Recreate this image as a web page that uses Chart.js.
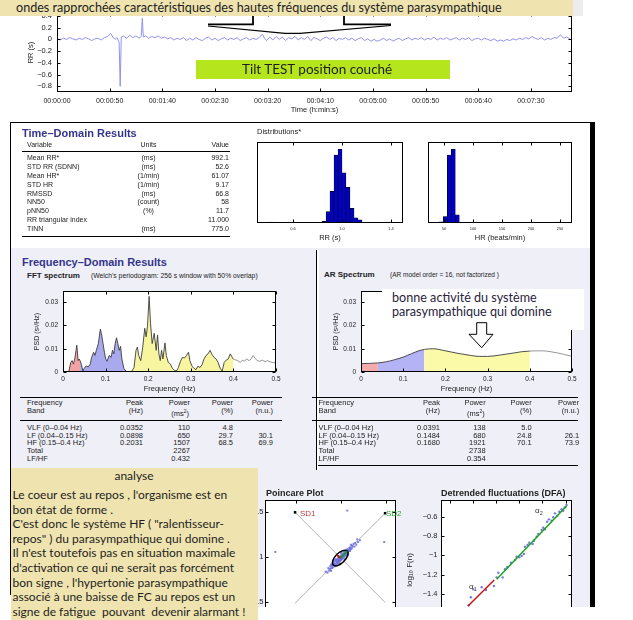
<!DOCTYPE html>
<html lang="fr">
<head>
<meta charset="utf-8">
<title>HRV</title>
<script src="https://cdn.jsdelivr.net/npm/chart.js@4.4.1/dist/chart.umd.min.js"></script>
<style>
html, body { margin:0; padding:0; width:633px; height:620px; overflow:hidden; background:#fff; }
#page { position:relative; width:633px; height:620px; font-family:'Liberation Sans', Arial, sans-serif; color:#222; }
#report { position:absolute; left:0; top:0; width:633px; height:607px; overflow:hidden; }
.abs { position:absolute; }
canvas { position:absolute; display:block; }
.t { position:absolute; white-space:nowrap; line-height:1; }
.note { font-family:Lato, 'Open Sans', sans-serif; color:#1e1e1e; }
</style>
</head>
<body>
<div id="page">
  <div id="report">
    <div class="abs" style="left:11px;top:248px;width:579px;height:359px;background:#efeff8"></div>
    <canvas id="cRR" width="600" height="126" style="left:0;top:0"></canvas>
    <canvas id="cHistRR" width="175" height="115" style="left:240px;top:130px"></canvas>
    <canvas id="cHistHR" width="169" height="115" style="left:415px;top:130px"></canvas>
    <canvas id="cFFT" width="276" height="116" style="left:10px;top:280px"></canvas>
    <canvas id="cAR" width="276" height="116" style="left:308px;top:280px"></canvas>
    <canvas id="cPoin" width="185" height="180" style="left:225px;top:490px"></canvas>
    <canvas id="cDFA" width="189" height="170" style="left:395px;top:490px"></canvas>
    <div class="abs" style="left:10px;top:122px;width:580px;height:1px;background:#000"></div>
    <div class="abs" style="left:590px;top:122px;width:5px;height:485px;background:#000"></div>
    <div class="abs" style="left:316px;top:250px;width:1px;height:220px;background:#000"></div>
    <div class="abs" style="left:317px;top:250px;width:2px;height:220px;background:#fff"></div>
  </div>

  <!-- annotations -->
  <div class="abs" style="left:0;top:0;width:573px;height:16px;background:#efe4b0"></div>
  <div class="t note" style="left:16px;top:8px;transform:translateY(-50%);font-size:12.6px">ondes rapprochées caractéristiques des hautes fréquences du système parasympathique</div>
  <div class="abs" style="left:573px;top:0;width:10px;height:16px;background:#ececec"></div>
  <svg class="abs" style="left:0;top:0" width="633" height="60">
    <polyline points="208,24.3 253,24.3 253,16" fill="none" stroke="#000" stroke-width="1.8"/>
    <polyline points="344,16 344,24.3 391,24.3" fill="none" stroke="#000" stroke-width="1.8"/>
    <polyline points="208,26 285,33.3 300,33.3 391,25.5" fill="none" stroke="#000" stroke-width="1.2"/>
  </svg>
  <div class="abs" style="left:196px;top:60px;width:254px;height:19px;background:#b5e61d"></div>
  <div class="t note" style="left:242px;top:69.5px;transform:translateY(-50%);font-size:13.5px">Tilt TEST position couché</div>

  <div class="abs" style="left:382px;top:289px;width:202px;height:41px;background:#fff"></div>
  <div class="t note" style="left:392px;top:298px;transform:translateY(-50%);font-size:12.6px;color:#2a2440">bonne activité du système</div>
  <div class="t note" style="left:392px;top:312px;transform:translateY(-50%);font-size:12.6px;color:#2a2440">parasympathique qui domine</div>
  <svg class="abs" style="left:0;top:0" width="633" height="360">
    <polygon points="476.7,322.7 486.7,322.7 486.7,334.3 493,334.3 481.7,347.7 469,334.3 476.7,334.3" fill="#fff" stroke="#000" stroke-width="1"/>
  </svg>

  <div id="analyse" class="abs note" style="left:11px;top:468px;width:247px;height:152px;background:#efe4b0"></div>
  <div class="abs" style="left:10px;top:122px;width:1px;height:473px;background:#000"></div>
</div>

<script>
// RR tachogram (detrended), [time s, RR s]
const rrSeries = [[0,0.01],[3,-0.01],[6,0.02],[9,0.0],[12,0.03],[15,0.01],[18,-0.01],[21,0.02],[24,0.0],[27,0.03],[30,0.01],[33,-0.02],[36,0.01],[39,0.02],[42,-0.01],[45,0.03],[48,0.05],[51,0.1],[53,0.04],[55,0.0],[57,0.03],[59,-0.05],[60,-0.8],[61,0.04],[63,0.06],[66,0.02],[69,0.07],[72,0.03],[75,0.06],[78,0.02],[80,0.05],[81,0.36],[82,0.04],[84,0.06],[87,0.02],[90,0.05],[93,0.03],[96,0.06],[99,0.02],[102,0.04],[105,0.01],[108,0.03],[111,-0.01],[114,0.02],[117,0.0],[120,0.03],[123,-0.02],[126,0.02],[129,-0.01],[132,0.03],[135,0.0],[138,-0.02],[141,0.02],[144,0.04],[147,-0.01],[150,0.02],[153,-0.02],[156,0.01],[159,0.03],[162,-0.01],[165,0.02],[168,0.0],[171,0.03],[174,-0.02],[177,0.01],[180,0.03],[183,-0.01],[186,0.02],[189,0.0],[192,0.03],[195,0.09],[197,0.02],[199,-0.02],[202,0.04],[205,-0.01],[208,0.05],[211,0.0],[214,0.04],[217,-0.02],[220,0.03],[223,0.01],[226,0.05],[229,-0.01],[232,0.03],[235,0.0],[238,0.05],[241,-0.02],[244,0.03],[247,0.01],[250,-0.02],[253,0.02],[256,0.04],[259,0.0],[262,0.03],[265,-0.02],[268,0.02],[271,0.0],[274,0.03],[277,-0.01],[280,0.02],[283,-0.02],[286,0.01],[289,0.03],[292,-0.02],[295,0.01],[298,-0.03],[301,0.0],[304,-0.03],[307,-0.01],[310,0.02],[313,-0.02],[316,0.01],[319,-0.03],[322,0.0],[325,0.02],[328,-0.02],[331,0.01],[334,0.03],[337,-0.01],[340,0.02],[343,0.0],[346,0.03],[349,-0.01],[352,0.02],[355,0.0],[358,0.04],[361,-0.01],[364,0.02],[367,0.0],[370,0.03],[373,-0.01],[376,0.01],[379,0.03],[382,-0.01],[385,0.02],[388,0.0],[391,0.03],[394,-0.02],[397,0.01],[400,0.02],[403,-0.01],[406,0.02],[409,0.0],[412,-0.02],[415,0.01],[418,-0.03],[421,-0.01],[424,-0.03],[427,0.0],[430,-0.02],[433,0.01],[436,-0.01],[439,0.02],[442,0.0],[445,0.03],[448,0.01],[451,0.05],[454,0.02],[457,0.0],[460,0.03],[463,-0.01],[466,0.02],[469,0.0],[472,0.03],[475,0.02],[478,0.08],[481,0.02],[484,0.04],[487,0.01]];

// distributions
const rrHistBins = [0.418, 0.853, 0.886, 0.918, 0.951, 0.984, 1.016, 1.049, 1.082, 1.114, 1.147, 1.378];
const rrHistCounts = [1, 2, 14, 39, 84, 91, 62, 44, 18, 6.5, 4, 1];
const rrHistTicks = [0.6, 1, 1.4];
const hrHistBins = [45.3, 52.2, 59.1, 66.0, 72.9, 246];
const hrHistCounts = [1.5, 8, 84, 91, 10, 1];
const hrHistTicks = [50, 100, 150, 200, 250];

// spectra
const bandEdges = [0, 0.04, 0.15, 0.4];
const fftFreq = [0.0134,0.0182,0.0213,0.0245,0.0276,0.0324,0.0355,0.0379,0.04,0.0434,0.0466,0.0498,0.0545,0.0592,0.064,0.0671,0.0719,0.075,0.0782,0.0829,0.0877,0.0908,0.094,0.0972,0.1003,0.1035,0.1082,0.113,0.1161,0.1193,0.1224,0.1256,0.1288,0.1319,0.1351,0.1382,0.143,0.1477,0.15,0.154,0.1603,0.1667,0.1714,0.1746,0.1777,0.1825,0.1872,0.1919,0.1951,0.1983,0.2022,0.2054,0.2093,0.2141,0.2188,0.222,0.2251,0.2283,0.2314,0.2346,0.2393,0.2425,0.2472,0.252,0.2567,0.2615,0.2662,0.2709,0.2757,0.2804,0.2852,0.2899,0.2946,0.2978,0.3025,0.3073,0.312,0.3167,0.3215,0.3262,0.331,0.3357,0.3404,0.3452,0.3499,0.3547,0.3594,0.3641,0.3689,0.3736,0.3784,0.3831,0.3878,0.3926,0.3973,0.4,0.41,0.4163,0.421,0.4258,0.4305,0.4368,0.4415,0.4463,0.451,0.4558,0.4621,0.4684,0.4747,0.4795,0.4874,0.4937,0.5];
const fftPsd = [0,0.0041,0.0049,0.0034,0.0056,0.0115,0.0049,0.0056,0.0049,0.0031,0.0004,0.0016,0.0026,0.0022,0.0034,0.0063,0.0085,0.0071,0.0093,0.0122,0.0184,0.0159,0.0122,0.0085,0.0056,0.0046,0.0071,0.0063,0.0093,0.0078,0.0122,0.0147,0.0122,0.0093,0.011,0.0056,0.0015,0.0004,0.0002,0,0,0.0019,0.0093,0.0107,0.0071,0.0049,0.0107,0.0188,0.0151,0.0196,0.0325,0.021,0.0122,0.0166,0.0093,0.0159,0.0078,0.0049,0.0093,0.0056,0.0125,0.0071,0.0041,0.0034,0.0016,0.0007,0.0004,0.0019,0.0046,0.0063,0.006,0.0071,0.0085,0.0049,0.0026,0.0016,0.001,0.0025,0.0019,0.0031,0.0056,0.0071,0.0078,0.0093,0.0075,0.0063,0.0056,0.0041,0.0016,0.0004,0.0041,0.0051,0.0056,0.0078,0.0063,0.0055,0.0049,0.0041,0.0051,0.0046,0.0056,0.0049,0.0056,0.0071,0.0059,0.0049,0.0046,0.0051,0.0044,0.0049,0.0043,0.004,0.0041];
const arFreq = [0, 0.02, 0.04, 0.06, 0.08, 0.1, 0.12, 0.14, 0.15, 0.17, 0.2, 0.23, 0.26, 0.28, 0.3, 0.33, 0.36, 0.38, 0.4, 0.43, 0.45, 0.48, 0.5];
const arPsd = [0.0036, 0.0037, 0.0039, 0.0044, 0.0053, 0.0064, 0.0079, 0.0093, 0.0097, 0.01, 0.0091, 0.008, 0.0071, 0.0067, 0.0067, 0.0073, 0.0081, 0.0087, 0.009, 0.0091, 0.0087, 0.0076, 0.0067];

// Poincare (RRn, RRn+1)
const poincareX = [0.83,0.85,0.86,0.87,0.88,0.88,0.89,0.90,0.90,0.91,0.91,0.92,0.92,0.93,0.93,0.94,0.94,0.95,0.95,0.95,0.96,0.96,0.96,0.97,0.97,0.97,0.98,0.98,0.98,0.99,0.99,0.99,1.00,1.00,1.00,1.01,1.01,1.01,1.02,1.02,1.02,1.03,1.03,1.03,1.04,1.04,1.04,1.05,1.05,1.05,1.06,1.06,1.06,1.07,1.07,1.08,1.08,1.09,1.09,1.10,1.10,1.11,1.12,1.12,1.13,1.14,1.15,1.16,1.17,1.19,1.21,1.18,0.94,0.97,1.00,1.03,0.92,0.99,1.04,1.07,0.89,1.11,0.27,1.07,1.48];
const poincareY = [0.84,0.83,0.88,0.85,0.90,0.87,0.92,0.88,0.91,0.94,0.89,0.92,0.95,0.90,0.93,0.96,0.92,0.94,0.97,0.91,0.95,0.98,0.93,0.96,0.99,0.94,0.97,1.00,0.95,0.98,1.01,0.96,0.99,1.02,0.97,1.00,1.03,0.98,1.01,1.04,0.99,1.02,1.05,1.00,1.03,1.06,1.01,1.04,1.07,1.02,1.05,1.08,1.03,1.06,1.09,1.07,1.04,1.10,1.08,1.07,1.11,1.09,1.13,1.10,1.12,1.15,1.12,1.16,1.14,1.17,1.19,1.20,0.98,1.01,1.05,1.07,0.97,0.93,0.98,1.02,0.85,1.14,1.06,1.52,1.17];
const poincareIdentity = [[0.49, 0.49], [1.49, 1.49]];
const poincarePerp = [[0.49, 1.5], [1.49, 0.5]];
const meanRR = 0.992, sd1 = 0.055, sd2 = 0.11;

// DFA
const dfaLogN = [0.965,0.984,1.004,1.077,1.114,1.183,1.206,1.220,1.258,1.278,1.297,1.329,1.364,1.378,1.401,1.422,1.441,1.450,1.473,1.487,1.516,1.528,1.551,1.565,1.594,1.608,1.622,1.642,1.657,1.680,1.694,1.709,1.728,1.746,1.766,1.780,1.795,1.809];
const dfaLogF = [-1.516,-1.433,-1.351,-1.330,-1.358,-1.317,-1.227,-1.179,-1.227,-1.144,-1.123,-1.076,-1.048,-1.014,-1.020,-1.006,-0.986,-0.910,-0.893,-0.869,-0.882,-0.848,-0.807,-0.779,-0.738,-0.714,-0.730,-0.652,-0.627,-0.641,-0.606,-0.565,-0.593,-0.548,-0.523,-0.538,-0.503,-0.479];
const dfaFit1 = [[0.959, -1.523], [1.185, -1.255]];
const dfaFit2 = [[1.206, -1.247], [1.809, -0.489]];

// tables
const tdVariables = ['Mean RR*', 'STD RR (SDNN)', 'Mean HR*', 'STD HR', 'RMSSD', 'NN50', 'pNN50', 'RR triangular index', 'TINN'];
const tdUnits = ['(ms)', '(ms)', '(1/min)', '(1/min)', '(ms)', '(count)', '(%)', '', '(ms)'];
const tdValues = ['992.1', '52.6', '61.07', '9.17', '66.8', '58', '11.7', '11.000', '775.0'];
const bandNames = ['VLF (0\u20130.04 Hz)', 'LF (0.04\u20130.15 Hz)', 'HF (0.15\u20130.4 Hz)', 'Total', 'LF/HF'];
const fftPeak = ['0.0352', '0.0898', '0.2031', '', ''];
const fftPowerMs = ['110', '650', '1507', '2267', '0.432'];
const fftPowerPct = ['4.8', '29.7', '68.5', '', ''];
const fftPowerNu = ['', '30.1', '69.9', '', ''];
const arPeak = ['0.0391', '0.1484', '0.1680', '', ''];
const arPowerMs = ['138', '680', '1921', '2738', '0.354'];
const arPowerPct = ['5.0', '24.8', '70.1', '', ''];
const arPowerNu = ['', '26.1', '73.9', '', ''];
const analyseLines = [
  "Le coeur est au repos , l'organisme est en",
  "bon état de forme .",
  "C'est donc le système HF ( \"ralentisseur-",
  "repos\" ) du parasympathique qui domine .",
  "Il n'est toutefois pas en situation maximale",
  "d'activation ce qui ne serait pas forcément",
  "bon signe , l'hypertonie parasympathique",
  "associé à une baisse de FC au repos est un",
  "signe de fatigue  pouvant  devenir alarmant !"
];

Chart.defaults.font.family = "'Liberation Sans', Arial, sans-serif";
Chart.defaults.color = '#222';

// white plot area + box with inward ticks
Chart.register({
  id: 'frame',
  beforeDraw(chart, args, o) {
    if (!o.on) return;
    const a = chart.chartArea, ctx = chart.ctx;
    ctx.save();
    ctx.fillStyle = '#fff';
    ctx.fillRect(a.left, a.top, a.right - a.left, a.bottom - a.top);
    ctx.restore();
  },
  afterDraw(chart, args, o) {
    if (!o.on) return;
    const {ctx, chartArea: a, scales} = chart;
    const L = 3;
    const l = Math.round(a.left) + 0.5, r = Math.round(a.right) - 0.5;
    const t = Math.round(a.top) + 0.5, b = Math.round(a.bottom) - 0.5;
    ctx.save();
    ctx.strokeStyle = '#000';
    ctx.lineWidth = 1;
    ctx.strokeRect(l, t, r - l, b - t);
    ctx.beginPath();
    if (o.x) scales.x.ticks.forEach(tk => {
      const p = Math.round(scales.x.getPixelForValue(tk.value)) + 0.5;
      ctx.moveTo(p, b); ctx.lineTo(p, b - L);
      ctx.moveTo(p, t); ctx.lineTo(p, t + L);
    });
    if (o.y) scales.y.ticks.forEach(tk => {
      const p = Math.round(scales.y.getPixelForValue(tk.value)) + 0.5;
      ctx.moveTo(l, p); ctx.lineTo(l + L, p);
      ctx.moveTo(r, p); ctx.lineTo(r - L, p);
    });
    ctx.stroke();
    ctx.restore();
  }
});

const minus = v => String(+(+v).toFixed(3)).replace('-', '\u2212');
const hms = v => {
  const s = Math.round(v);
  return [Math.floor(s / 3600), Math.floor(s % 3600 / 60), s % 60].map(n => String(n).padStart(2, '0')).join(':');
};

function axis(min, max, o) {
  const ax = {
    type: 'linear', min, max, offset: false,
    grid: {display: false, drawTicks: false, offset: false},
    border: {display: false},
    ticks: {includeBounds: false, autoSkip: false, maxRotation: 0, padding: o.pad, font: {size: o.size}, color: '#222'},
    title: o.title ? {display: true, text: o.title, color: '#222', font: {size: o.tsize}, padding: o.tpad} : {display: false},
    afterFit: o.fit
  };
  if (o.step) ax.ticks.stepSize = o.step;
  if (o.cb) ax.ticks.callback = o.cb;
  if (o.vals) ax.afterBuildTicks = s => { s.ticks = o.vals.map(v => ({value: v})); };
  return ax;
}

function opts(pad, frame, scales) {
  return {
    responsive: false, animation: false, events: [],
    layout: {padding: pad},
    plugins: {legend: {display: false}, tooltip: {enabled: false}, frame},
    scales
  };
}

const pts = (xs, ys) => xs.map((x, i) => ({x, y: ys[i]}));
const pairs = arr => arr.map(p => ({x: p[0], y: p[1]}));

// RR tachogram
new Chart(document.getElementById('cRR'), {
  type: 'line',
  data: {datasets: [{data: pairs(rrSeries), borderColor: '#9292f0', borderWidth: 1, pointRadius: 0, tension: 0}]},
  options: opts({left: 0, top: 13, right: 28, bottom: 0}, {on: true, x: true, y: true}, {
    x: axis(0, 489, {step: 50, cb: hms, pad: 5, size: 7, title: 'Time (h:min:s)', tsize: 7.5, tpad: {top: 0, bottom: 12}, fit: s => { s.height = 34; }}),
    y: axis(-0.896, 0.45, {step: 0.2, cb: minus, pad: 5, size: 7.5, title: 'RR (s)', tsize: 7.5, tpad: {top: 26, bottom: 0}, fit: s => { s.width = 57; }})
  })
});

function hist(id, bins, counts, xmin, xmax, vals, title, padL) {
  new Chart(document.getElementById(id), {
    type: 'bar',
    data: {datasets: [{data: pts(bins, counts), backgroundColor: '#0000c8', borderColor: '#000', borderWidth: 0.6, barPercentage: 1, categoryPercentage: 1}]},
    options: opts({left: padL, top: 12, right: 12, bottom: 0}, {on: true, x: true, y: false}, {
      x: axis(xmin, xmax, {vals, pad: 3, size: 4, title, tsize: 7.5, tpad: {top: 0, bottom: 3}, fit: s => { s.height = 22; }}),
      y: {display: false, min: 0, max: 100}
    })
  });
}
hist('cHistRR', rrHistBins, rrHistCounts, 0.306, 1.498, rrHistTicks, 'RR (s)', 17);
hist('cHistHR', hrHistBins, hrHistCounts, 22.4, 270.7, hrHistTicks, 'HR (beats/min)', 13);

function spectrum(id, freq, psd, fills, tension, ytpad, padR) {
  const all = pts(freq, psd);
  const bands = fills.map((c, k) => ({
    data: all.filter(p => p.x >= bandEdges[k] && p.x <= bandEdges[k + 1]),
    backgroundColor: c, borderWidth: 0, pointRadius: 0, fill: 'origin',
    cubicInterpolationMode: tension ? 'monotone' : 'default'
  }));
  new Chart(document.getElementById(id), {
    type: 'line',
    data: {datasets: [{
      data: all, borderWidth: 0.9, pointRadius: 0, fill: false,
      cubicInterpolationMode: tension ? 'monotone' : 'default',
      borderColor: '#3c3c3c',
      segment: {borderColor: c => c.p0.parsed.x >= bandEdges[3] ? '#8a8a8a' : '#3c3c3c'}
    }, ...bands]},
    options: opts({left: 0, top: 11, right: padR, bottom: 0}, {on: true, x: true, y: true}, {
      x: axis(0, 0.5, {step: 0.1, pad: 3.5, size: 6.5, title: 'Frequency (Hz)', tsize: 7.5, tpad: {top: 0, bottom: 3}, fit: s => { s.height = 24; }}),
      y: axis(0, 0.0348, {step: 0.01, pad: 5, size: 6.5, title: 'PSD (s\u00b2/Hz)', tsize: 7, tpad: {top: ytpad, bottom: 0}, fit: s => { s.width = 53; }})
    })
  });
}
spectrum('cFFT', fftFreq, fftPsd, ['#f2a2a2', '#a9a9ef', '#f7f5a0'], false, 22.5, 10);
spectrum('cAR', arFreq, arPsd, ['#f5abab', '#b3b3f6', '#fafaa8'], true, 23.8, 12);

// Poincare
const ellipsePlugin = {
  id: 'sdEllipse',
  afterDatasetsDraw(chart) {
    const {ctx, scales: {x}} = chart;
    const cx = x.getPixelForValue(meanRR), cy = chart.scales.y.getPixelForValue(meanRR);
    const a = x.getPixelForValue(meanRR + sd2) - cx;
    const b = x.getPixelForValue(meanRR + sd1) - cx;
    ctx.save();
    ctx.translate(cx, cy);
    ctx.rotate(-Math.PI / 4);
    ctx.lineWidth = 1.5;
    ctx.strokeStyle = '#000';
    ctx.beginPath(); ctx.ellipse(0, 0, a, b, 0, 0, 2 * Math.PI); ctx.stroke();
    ctx.lineWidth = 1.8;
    ctx.strokeStyle = '#1a9a1a';
    ctx.beginPath(); ctx.moveTo(0, 0); ctx.lineTo(a, 0); ctx.stroke();
    ctx.strokeStyle = '#b01818';
    ctx.beginPath(); ctx.moveTo(0, 0); ctx.lineTo(0, -b); ctx.stroke();
    ctx.restore();
  }
};
new Chart(document.getElementById('cPoin'), {
  type: 'line',
  data: {datasets: [
    {type: 'scatter', data: pts(poincareX, poincareY), backgroundColor: 'rgba(105,105,225,0.85)', borderWidth: 0, pointRadius: 1.4, pointStyle: 'rect'},
    {data: pairs(poincareIdentity), borderColor: '#b4b4b4', borderWidth: 1, pointRadius: [0, 1.8], pointStyle: 'rect', pointBackgroundColor: '#000', pointBorderWidth: 0},
    {data: pairs(poincarePerp), borderColor: '#b4b4b4', borderWidth: 1, pointRadius: [1.8, 0], pointStyle: 'rect', pointBackgroundColor: '#000', pointBorderWidth: 0}
  ]},
  options: opts({left: 0, top: 10, right: 14, bottom: 0}, {on: true, x: true, y: true}, {
    x: axis(0.156, 1.611, {step: 0.5, cb: minus, pad: 3, size: 7.5, fit: s => { s.height = 20; }}),
    y: axis(-0.03, 1.637, {step: 0.5, cb: minus, pad: 1.5, size: 7.5, fit: s => { s.width = 40; }})
  }),
  plugins: [ellipsePlugin]
});

// DFA
new Chart(document.getElementById('cDFA'), {
  type: 'line',
  data: {datasets: [
    {data: pairs(dfaFit1), borderColor: '#c81414', borderWidth: 1.5, pointRadius: 0},
    {data: pairs(dfaFit2), borderColor: '#1aa51a', borderWidth: 1.5, pointRadius: 0},
    {type: 'scatter', data: pts(dfaLogN, dfaLogF), backgroundColor: 'rgba(105,105,225,0.9)', borderWidth: 0, pointRadius: 1.2}
  ]},
  options: opts({left: 0, top: 10, right: 12, bottom: 0}, {on: true, x: true, y: true}, {
    x: axis(0.726, 1.856, {step: 0.2, cb: minus, pad: 3, size: 7.5, fit: s => { s.height = 20; }}),
    y: axis(-1.875, -0.427, {step: 0.2, cb: minus, pad: 3.5, size: 7.5, title: 'log\u2081\u2080 F(n)', tsize: 8, tpad: {top: 10.2, bottom: 0}, fit: s => { s.width = 46; }})
  })
});

// ---- text ----
const rep = document.getElementById('report');
function txt(s, x, y, o = {}) {
  const d = document.createElement('div');
  d.className = 't' + (o.note ? ' note' : '');
  d.innerHTML = s;
  d.style.left = x + 'px';
  d.style.top = y + 'px';
  d.style.fontSize = (o.size || 7) + 'px';
  if (o.bold) d.style.fontWeight = 'bold';
  if (o.color) d.style.color = o.color;
  const tx = o.align === 'right' ? '-100%' : o.align === 'center' ? '-50%' : '0';
  d.style.transform = 'translate(' + tx + ',-50%)';
  (o.parent || rep).appendChild(d);
}
function hline(x1, x2, y) {
  const d = document.createElement('div');
  d.className = 'abs';
  d.style.cssText = 'left:' + x1 + 'px;top:' + y + 'px;width:' + (x2 - x1) + 'px;height:1px;background:#000';
  rep.appendChild(d);
}

const navy = '#35358c';
txt('Time\u2013Domain Results', 22, 133, {size: 11, bold: true, color: navy});
txt('Variable', 27, 144, {size: 7});
txt('Units', 148.5, 144, {size: 7, align: 'center'});
txt('Value', 229, 144, {size: 7, align: 'right'});
hline(22, 230, 151);
tdVariables.forEach((v, i) => {
  const y = 156.7 + 8.95 * i;
  txt(v, 27, y, {size: 7});
  if (tdUnits[i]) txt(tdUnits[i], 148.5, y, {size: 7, align: 'center'});
  txt(tdValues[i], 229, y, {size: 7, align: 'right'});
});
hline(22, 230, 236);
txt('Distributions*', 257, 132, {size: 7.5});

txt('Frequency\u2013Domain Results', 22, 262, {size: 11, bold: true, color: navy});
txt('FFT spectrum', 27, 276, {size: 8, bold: true});
txt("(Welch's periodogram: 256 s window with 50% overlap)", 91, 276, {size: 6.8});
txt('AR Spectrum', 324, 275, {size: 8, bold: true});
txt('(AR model order = 16, not factorized )', 390, 275, {size: 6.5});

function freqTable(x0, cols, peak, ms, pct, nu, x1) {
  hline(x0 - 7, x1, 397);
  txt('Frequency', x0, 402.5, {size: 7.5});
  txt('Band', x0, 411, {size: 7.5});
  txt('Peak', cols[0], 402.5, {size: 7.5, align: 'right'});
  txt('(Hz)', cols[0], 411, {size: 7.5, align: 'right'});
  txt('Power', cols[1], 402.5, {size: 7.5, align: 'right'});
  txt('(ms<sup style="font-size:5px">2</sup>)', cols[1] - 1, 413, {size: 7.5, align: 'right'});
  txt('Power', cols[2], 402.5, {size: 7.5, align: 'right'});
  txt('(%)', cols[2], 411, {size: 7.5, align: 'right'});
  txt('Power', cols[3], 402.5, {size: 7.5, align: 'right'});
  txt('(n.u.)', cols[3], 411, {size: 7.5, align: 'right'});
  hline(x0 - 7, x1, 420);
  bandNames.forEach((b, i) => {
    const y = 428 + 7.7 * i;
    txt(b, x0, y, {size: 7.5});
    [peak, ms, pct, nu].forEach((col, k) => { if (col[i]) txt(col[i], cols[k], y, {size: 7.5, align: 'right'}); });
  });
}
freqTable(27, [143, 190, 233, 273], fftPeak, fftPowerMs, fftPowerPct, fftPowerNu, 282);
freqTable(318.5, [440, 485.7, 531.7, 579.3], arPeak, arPowerMs, arPowerPct, arPowerNu, 578);
hline(318, 578, 465);

txt('Poincare Plot', 266, 493, {size: 9, bold: true});
txt('SD1', 300, 514, {size: 8, color: '#b84040'});
txt('SD2', 386, 514, {size: 8, color: '#2ca02c'});
txt('Detrended fluctuations (DFA)', 441, 493, {size: 9, bold: true});
txt('\u03b1<span style="font-size:5.5px;vertical-align:-2px">1</span>', 469, 588, {size: 8, color: '#333'});
txt('\u03b1<span style="font-size:5.5px;vertical-align:-2px">2</span>', 535, 512, {size: 8, color: '#333'});

// analysis note
const an = document.getElementById('analyse');
txt('analyse', 123, 8, {size: 12, note: true, align: 'center', parent: an});
analyseLines.forEach((s, i) => txt(s.replace(/ {2}/g, ' &nbsp;'), 1.5, 27 + 14.6 * i, {size: 12, note: true, parent: an}));
</script>
</body>
</html>
